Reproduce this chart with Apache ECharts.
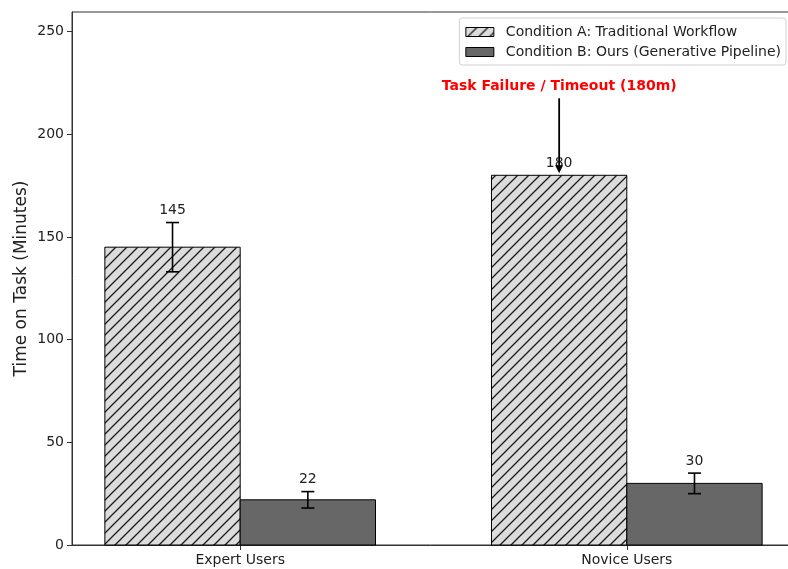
<!DOCTYPE html>
<html>
<head>
<meta charset="utf-8">
<script src="https://cdn.jsdelivr.net/npm/echarts@6/dist/echarts.min.js"></script>
<style>
  html, body { margin: 0; padding: 0; background: #fff; }
  #chart { width: 788px; height: 569px; }
</style>
</head>
<body>
<div id="chart"></div>
<script>
// Time on task per user group, two conditions, with standard error
const categories = ['Expert Users', 'Novice Users'];
const seriesNames = ['Condition A: Traditional Workflow', 'Condition B: Ours (Generative Pipeline)'];
const conditionA = [145, 180];
const conditionAErr = [12, 0];
const conditionB = [22, 30];
const conditionBErr = [4, 5];
const yTicks = [0, 50, 100, 150, 200, 250];
const timeoutLimit = 180;
const annotationText = 'Task Failure / Timeout (180m)';

const FONT = 'DejaVu Sans, sans-serif';
const BAR_W = 0.35;

// diagonal hatch tile for the traditional-workflow bars
function makeHatch() {
  const s = 11;
  const c = document.createElement('canvas');
  c.width = s; c.height = s;
  const g = c.getContext('2d');
  g.fillStyle = '#dcdcdc';
  g.fillRect(0, 0, s, s);
  g.strokeStyle = '#1a1a1a';
  g.lineWidth = 1.3;
  g.beginPath();
  g.moveTo(-2, s + 2); g.lineTo(s + 2, -2);
  g.moveTo(-2, 2); g.lineTo(2, -2);
  g.moveTo(s - 2, s + 2); g.lineTo(s + 2, s - 2);
  g.stroke();
  return c;
}
const hatch = { image: makeHatch(), repeat: 'repeat' };
const darkFill = '#676767';

function barData(values, errs, offset) {
  return values.map((v, i) => [i + offset, v, errs[i]]);
}

function barRender(fill) {
  return function (params, api) {
    const x = api.value(0), v = api.value(1), e = api.value(2);
    const tl = api.coord([x - BAR_W / 2, v]);
    const br = api.coord([x + BAR_W / 2, 0]);
    const children = [{
      type: 'rect',
      shape: { x: tl[0], y: tl[1], width: br[0] - tl[0], height: br[1] - tl[1] },
      style: { fill: fill, stroke: '#000', lineWidth: 1 }
    }];
    if (e > 0) {
      const top = api.coord([x, v + e]);
      const bot = api.coord([x, v - e]);
      children.push({
        type: 'line', shape: { x1: top[0], y1: top[1], x2: bot[0], y2: bot[1] },
        style: { stroke: '#000', lineWidth: 1.6 }, z2: 5
      });
      [top, bot].forEach(p => children.push({
        type: 'line', shape: { x1: p[0] - 6.5, y1: p[1], x2: p[0] + 6.5, y2: p[1] },
        style: { stroke: '#000', lineWidth: 1.6 }, z2: 5
      }));
    }
    const lp = api.coord([x, v + e]);
    children.push({
      type: 'text', z2: 6,
      style: {
        text: String(v), x: lp[0], y: lp[1] - 12,
        align: 'center', verticalAlign: 'middle',
        font: '14px ' + FONT, fill: '#222'
      }
    });
    return { type: 'group', children: children };
  };
}

const chart = echarts.init(document.getElementById('chart'), null, { renderer: 'canvas' });

chart.setOption({
  animation: false,
  backgroundColor: '#fff',
  grid: {
    left: 72, top: 12, width: 723, height: 533,
    outerBoundsMode: 'none',
    show: true, borderColor: '#333', borderWidth: 1, backgroundColor: 'transparent'
  },
  legend: {
    data: seriesNames,
    orient: 'vertical',
    right: 2, top: 18,
    padding: [6, 5, 5, 6],
    itemWidth: 28, itemHeight: 9,
    itemGap: 4,
    backgroundColor: 'rgba(255,255,255,0.85)',
    borderColor: '#d0d0d0', borderWidth: 1, borderRadius: 3,
    icon: 'rect',
    itemStyle: { borderWidth: 1, borderColor: '#000' },
    textStyle: { fontFamily: FONT, fontSize: 14, color: '#222', lineHeight: 16, padding: [0, 0, 0, 7] }
  },
  xAxis: {
    type: 'value',
    min: -0.435, max: 1.435,
    splitLine: { show: false },
    axisLine: { onZero: false, lineStyle: { color: '#333', width: 1 } },
    axisTick: { show: true, length: 5, customValues: [0, 1], lineStyle: { color: '#333' } },
    axisLabel: {
      customValues: [0, 1],
      formatter: v => categories[Math.round(v)],
      fontFamily: FONT, fontSize: 14, color: '#222', margin: 8
    }
  },
  yAxis: {
    type: 'value',
    min: 0, max: 259.5, interval: 50,
    name: 'Time on Task (Minutes)',
    nameLocation: 'middle', nameGap: 42,
    nameMoveOverlap: false,
    nameTextStyle: { fontFamily: FONT, fontSize: 17, color: '#222' },
    splitLine: { show: false },
    axisLine: { show: true, onZero: false, lineStyle: { color: '#333', width: 1 } },
    axisTick: { show: true, length: 5, customValues: yTicks, lineStyle: { color: '#333' } },
    axisLabel: {
      customValues: yTicks,
      fontFamily: FONT, fontSize: 14, color: '#222', margin: 8
    }
  },
  series: [
    {
      name: seriesNames[0],
      type: 'custom',
      itemStyle: { color: hatch, borderColor: '#000', borderWidth: 1 },
      encode: { x: 0, y: 1 },
      data: barData(conditionA, conditionAErr, -BAR_W / 2),
      renderItem: barRender(hatch),
      z: 2
    },
    {
      name: seriesNames[1],
      type: 'custom',
      itemStyle: { color: darkFill, borderColor: '#000', borderWidth: 1 },
      encode: { x: 0, y: 1 },
      data: barData(conditionB, conditionBErr, BAR_W / 2),
      renderItem: barRender(darkFill),
      z: 2
    },
    {
      // timeout annotation with arrow pointing at the capped novice bar
      name: 'annotation',
      type: 'custom',
      silent: true,
      encode: { x: 0, y: 1 },
      data: [[1 - BAR_W / 2, timeoutLimit]],
      renderItem: function (params, api) {
        const x = api.value(0), v = api.value(1);
        const txt = api.coord([x, v + 43.5]);
        const start = api.coord([x, v + 37.5]);
        const tip = api.coord([x, v + 1]);
        return {
          type: 'group',
          children: [
            {
              type: 'text',
              style: {
                text: annotationText, x: txt[0], y: txt[1],
                align: 'center', verticalAlign: 'middle',
                font: 'bold 14px ' + FONT, fill: '#ff0000'
              }
            },
            {
              type: 'line',
              shape: { x1: start[0], y1: start[1], x2: tip[0], y2: tip[1] - 6 },
              style: { stroke: '#000', lineWidth: 1.8 }
            },
            {
              type: 'polygon',
              shape: { points: [[tip[0] - 4, tip[1] - 8], [tip[0] + 4, tip[1] - 8], [tip[0], tip[1]]] },
              style: { fill: '#000' }
            }
          ]
        };
      },
      z: 10
    }
  ]
});
</script>
</body>
</html>
